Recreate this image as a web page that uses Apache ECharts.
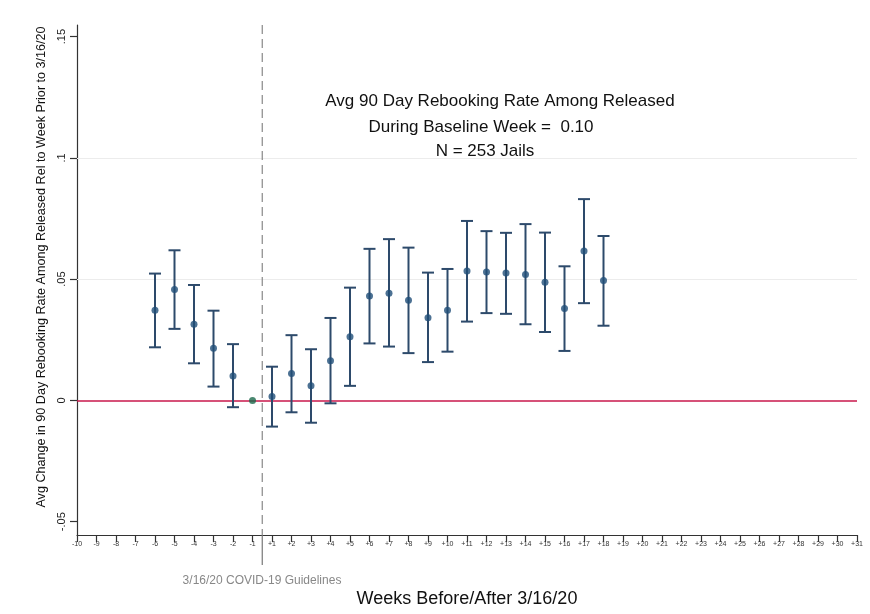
<!DOCTYPE html>
<html>
<head>
<meta charset="utf-8">
<script src="https://cdn.jsdelivr.net/npm/echarts@6/dist/echarts.min.js"></script>
<style>
  html, body { margin: 0; padding: 0; background: #fff; }
  #chart { width: 870px; height: 614px; }
</style>
</head>
<body>
<div id="chart"></div>
<script>
// tick labels along the x axis (weeks relative to 3/16/20)
const weekLabels = ['-10', '-9', '-8', '-7', '-6', '-5', '-4', '-3', '-2', '-1',
  '+1', '+2', '+3', '+4', '+5', '+6', '+7', '+8', '+9', '+10', '+11', '+12', '+13',
  '+14', '+15', '+16', '+17', '+18', '+19', '+20', '+21', '+22', '+23', '+24', '+25',
  '+26', '+27', '+28', '+29', '+30', '+31'];
const yTicks = [-0.05, 0, 0.05, 0.1, 0.15];

// estimated coefficients with 95% CI
const weeks = ['-6', '-5', '-4', '-3', '-2', '+1', '+2', '+3', '+4', '+5', '+6', '+7',
  '+8', '+9', '+10', '+11', '+12', '+13', '+14', '+15', '+16', '+17', '+18'];
const estimates = [0.0372, 0.0457, 0.0314, 0.0215, 0.0101, 0.0016, 0.0111, 0.0060, 0.0164,
  0.0262, 0.0431, 0.0442, 0.0413, 0.0341, 0.0372, 0.0534, 0.0529, 0.0525, 0.0519, 0.0487,
  0.0379, 0.0616, 0.0494];
const upper = [0.0523, 0.0619, 0.0476, 0.0370, 0.0232, 0.0139, 0.0269, 0.0211, 0.0340,
  0.0465, 0.0625, 0.0665, 0.0630, 0.0527, 0.0542, 0.0740, 0.0698, 0.0691, 0.0727, 0.0692,
  0.0553, 0.0830, 0.0678];
const lower = [0.0219, 0.0295, 0.0153, 0.0057, -0.0028, -0.0108, -0.0049, -0.0092, -0.0012,
  0.0060, 0.0235, 0.0222, 0.0195, 0.0158, 0.0201, 0.0325, 0.0360, 0.0357, 0.0314, 0.0282,
  0.0204, 0.0401, 0.0308];
// reference week (omitted, fixed at 0)
const baseWeek = '-1';
const baseValue = 0;
// policy date sits between week -1 and week +1
const policyX = 9.5;

const yMin = -0.0555, yMax = 0.1548;

const xi = w => weekLabels.indexOf(w);
const ciData = weeks.map((w, i) => [xi(w), lower[i], upper[i]]);
const ptData = weeks.map((w, i) => [xi(w), estimates[i]]);

const chart = echarts.init(document.getElementById('chart'));
const font = '"Liberation Sans", Arial, Helvetica, sans-serif';

chart.setOption({
  animation: false,
  textStyle: { fontFamily: font },
  grid: { left: 77, right: 13, top: 25, bottom: 79 },
  xAxis: {
    type: 'value',
    min: 0,
    max: weekLabels.length - 1,
    interval: 1,
    name: 'Weeks Before/After 3/16/20',
    nameLocation: 'middle',
    nameGap: 55,
    nameTextStyle: { fontSize: 18, color: '#111', fontFamily: font },
    axisLine: { onZero: false, lineStyle: { color: '#333', width: 1.2 } },
    axisTick: { length: 7, lineStyle: { color: '#333', width: 1.2 } },
    axisLabel: {
      fontSize: 7, color: '#333', margin: 6,
      formatter: v => weekLabels[v] || ''
    },
    splitLine: { show: false }
  },
  yAxis: {
    type: 'value',
    min: yMin,
    max: yMax,
    axisLine: { show: true, lineStyle: { color: '#333', width: 1.2 } },
    axisTick: { show: true, length: 7, customValues: yTicks, lineStyle: { color: '#333', width: 1.2 } },
    axisLabel: {
      customValues: yTicks,
      rotate: 90, fontSize: 11, color: '#222', margin: 10,
      formatter: v => (v === 0 ? '0' : String(v).replace('0.', '.'))
    },
    splitLine: { show: false }
  },
  graphic: [
    {
      type: 'text', x: 42, y: 267, rotation: Math.PI / 2,
      style: {
        text: 'Avg Change in 90 Day Rebooking Rate Among Released Rel to Week Prior to 3/16/20',
        font: '12.6px ' + font, fill: '#111', align: 'center', verticalAlign: 'middle'
      }
    },
    {
      type: 'text', x: 262, y: 581,
      style: {
        text: '3/16/20 COVID-19 Guidelines',
        font: '12px ' + font, fill: '#888', align: 'center', verticalAlign: 'middle'
      }
    },
    {
      type: 'text', x: 500, y: 101, z: 100,
      style: { text: 'Avg 90 Day Rebooking Rate Among Released', font: '17px ' + font, fill: '#111', align: 'center', verticalAlign: 'middle' }
    },
    {
      type: 'text', x: 481, y: 127.5, z: 100,
      style: { text: 'During Baseline Week =  0.10', font: '17px ' + font, fill: '#111', align: 'center', verticalAlign: 'middle' }
    },
    {
      type: 'text', x: 485, y: 151.5, z: 100,
      style: { text: 'N = 253 Jails', font: '17px ' + font, fill: '#111', align: 'center', verticalAlign: 'middle' }
    }
  ],
  series: [
    {
      // vertical policy line, dashed inside the plot and running on below the axis
      type: 'custom',
      data: [[policyX, yMin, yMax]],
      clip: false,
      silent: true,
      renderItem: (params, api) => {
        const top = api.coord([api.value(0), api.value(2)]);
        const bot = api.coord([api.value(0), api.value(1)]);
        return {
          type: 'group',
          children: [
            { type: 'line', shape: { x1: top[0], y1: top[1], x2: bot[0], y2: bot[1] },
              style: { stroke: '#888', lineWidth: 1.2, lineDash: [9, 5] } },
            { type: 'line', shape: { x1: bot[0], y1: bot[1], x2: bot[0], y2: bot[1] + 30 },
              style: { stroke: '#777', lineWidth: 1.2 } }
          ]
        };
      },
      z: 1
    },
    {
      type: 'custom',
      data: ciData,
      encode: { x: 0, y: [1, 2] },
      renderItem: (params, api) => {
        const x = api.value(0);
        const lo = api.coord([x, api.value(1)]);
        const hi = api.coord([x, api.value(2)]);
        const cap = 6;
        const st = { stroke: '#2d4a6b', lineWidth: 2, fill: 'none' };
        return {
          type: 'group',
          children: [
            { type: 'line', shape: { x1: lo[0], y1: lo[1], x2: hi[0], y2: hi[1] }, style: st },
            { type: 'line', shape: { x1: lo[0] - cap, y1: lo[1], x2: lo[0] + cap, y2: lo[1] }, style: st },
            { type: 'line', shape: { x1: hi[0] - cap, y1: hi[1], x2: hi[0] + cap, y2: hi[1] }, style: st }
          ]
        };
      },
      z: 3
    },
    {
      type: 'scatter',
      data: ptData,
      symbol: 'circle',
      symbolSize: 7,
      itemStyle: { color: '#1f4d78' },
      z: 4,
      markLine: {
        silent: true,
        symbol: 'none',
        label: { show: false },
        z: 1,
        data: [
          { yAxis: 0.05, lineStyle: { color: '#ececec', width: 1, type: 'solid' } },
          { yAxis: 0.1, lineStyle: { color: '#ececec', width: 1, type: 'solid' } },
          { yAxis: 0, lineStyle: { color: '#c8174b', width: 1.6, type: 'solid' } }
        ]
      }
    },
    {
      type: 'scatter',
      data: [[xi(baseWeek), baseValue]],
      symbol: 'circle',
      symbolSize: 7,
      itemStyle: { color: '#1b6a4c' },
      z: 4
    }
  ]
});
</script>
</body>
</html>
